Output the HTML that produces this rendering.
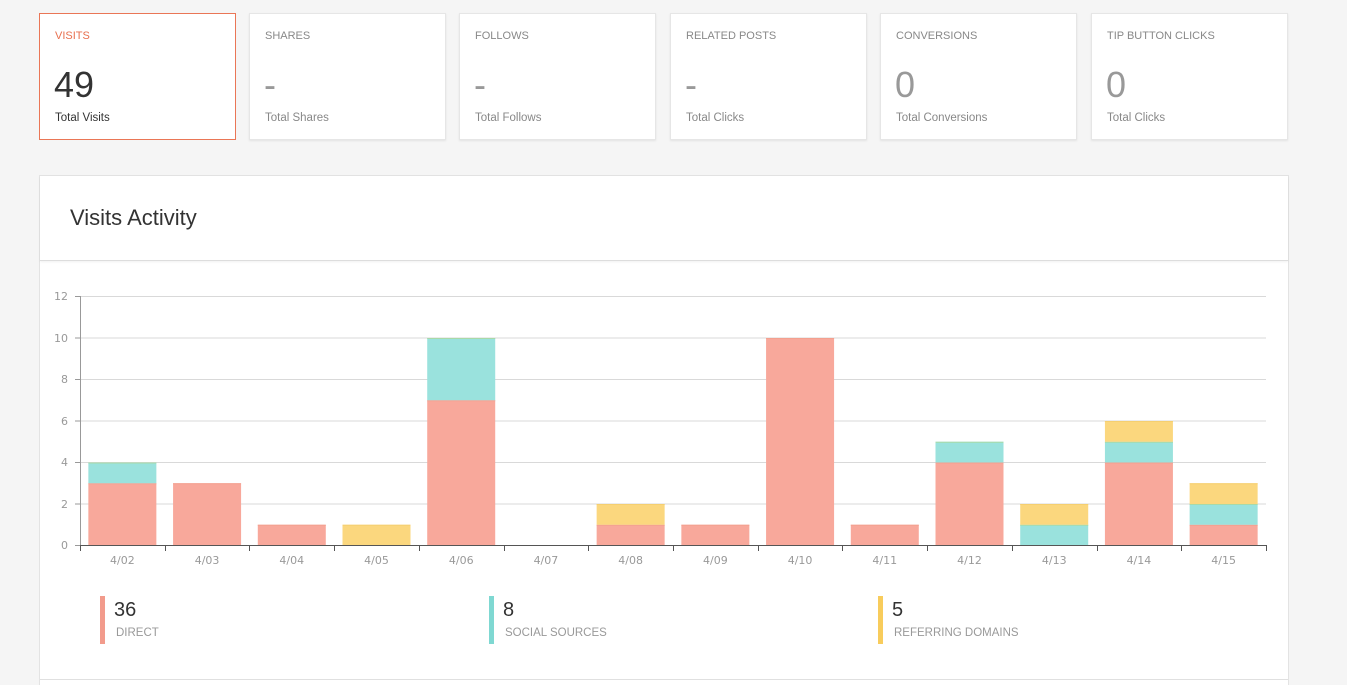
<!DOCTYPE html>
<html><head><meta charset="utf-8">
<style>
*{margin:0;padding:0;box-sizing:border-box}
html,body{width:1347px;height:685px;overflow:hidden}
body{background:#f5f5f5;font-family:"Liberation Sans",sans-serif;position:relative}
.card{position:absolute;top:13px;width:197px;height:127px;background:#fff;border:1px solid #e6e6e6;box-shadow:0 1px 2px rgba(0,0,0,0.08)}
.ob{position:absolute;top:13px;left:39px;width:197px;height:127px;background:#ea7656}
.ib{position:absolute;left:1px;top:1px;right:1px;bottom:1px;background:#fff}
.lbl{position:absolute;left:15px;top:16px;font-size:11px;color:#888}
.num{position:absolute;left:14px;top:50px;font-size:36px;color:#999;font-weight:normal}
.sub{position:absolute;left:15px;top:98px;font-size:11.5px;color:#888}
.ob .lbl{color:#e8704f}
.ob .num,.ob .sub{color:#333}
.panel{position:absolute;left:39px;top:175px;width:1250px;height:515px;background:#fff;border:1px solid #e3e3e3}
.head{position:absolute;left:0;top:0;width:100%;height:85px;border-bottom:1px solid #ddd;box-shadow:0 1px 2px rgba(0,0,0,0.06)}
.head h2{position:absolute;left:30px;top:29px;font-size:22px;font-weight:normal;color:#333}
.leg{position:absolute;top:596px;height:48px;width:5px}
.legn{position:absolute;top:599px;font-size:20px;color:#333}
.legl{position:absolute;top:627px;font-size:11.5px;color:#999}
.sep{position:absolute;left:40px;top:679px;width:1248px;height:1px;background:#e0e0e0}
</style></head><body>
<div class="ob"><div class="ib"><div class="lbl">VISITS</div><div class="num">49</div><div class="sub">Total Visits</div></div></div>
<div class="card" style="left:249px"><div class="lbl">SHARES</div><div class="num">-</div><div class="sub">Total Shares</div></div>
<div class="card" style="left:459px"><div class="lbl">FOLLOWS</div><div class="num">-</div><div class="sub">Total Follows</div></div>
<div class="card" style="left:670px"><div class="lbl">RELATED POSTS</div><div class="num">-</div><div class="sub">Total Clicks</div></div>
<div class="card" style="left:880px"><div class="lbl">CONVERSIONS</div><div class="num">0</div><div class="sub">Total Conversions</div></div>
<div class="card" style="left:1091px"><div class="lbl">TIP BUTTON CLICKS</div><div class="num">0</div><div class="sub">Total Clicks</div></div>

<div class="panel"><div class="head"><h2>Visits Activity</h2></div></div>

<svg style="position:absolute;left:0;top:0" width="1347" height="685" xmlns="http://www.w3.org/2000/svg">
<g stroke="#d9d9d9" stroke-width="1">
<line x1="80" y1="296.5" x2="1266" y2="296.5"/>
<line x1="80" y1="338" x2="1266" y2="338"/>
<line x1="80" y1="379.5" x2="1266" y2="379.5"/>
<line x1="80" y1="421" x2="1266" y2="421"/>
<line x1="80" y1="462.5" x2="1266" y2="462.5"/>
<line x1="80" y1="504" x2="1266" y2="504"/>
</g>
<g stroke="#999" stroke-width="1">
<line x1="75" y1="296.5" x2="80" y2="296.5"/>
<line x1="75" y1="338" x2="80" y2="338"/>
<line x1="75" y1="379.5" x2="80" y2="379.5"/>
<line x1="75" y1="421" x2="80" y2="421"/>
<line x1="75" y1="462.5" x2="80" y2="462.5"/>
<line x1="75" y1="504" x2="80" y2="504"/>
<line x1="75" y1="545.5" x2="80" y2="545.5"/>
<line x1="80.5" y1="296" x2="80.5" y2="546"/>
</g>
<g font-family="'DejaVu Sans',sans-serif" font-size="11" fill="#999" text-anchor="end">
<text x="68" y="300">12</text><text x="68" y="342">10</text><text x="68" y="383">8</text>
<text x="68" y="425">6</text><text x="68" y="466">4</text><text x="68" y="508">2</text><text x="68" y="549">0</text>
</g>
<g id="bars"></g>
<line x1="80" y1="545.5" x2="1266" y2="545.5" stroke="#555" stroke-width="1"/>
<g id="xt" stroke="#555" stroke-width="1"></g>
<g id="xl" font-family="'DejaVu Sans',sans-serif" font-size="11" fill="#999" text-anchor="middle"></g>
</svg>

<div class="leg" style="left:100px;background:#f29b8c"></div>
<div class="legn" style="left:114px">36</div><div class="legl" style="left:116px">DIRECT</div>
<div class="leg" style="left:489px;background:#7fd8d2"></div>
<div class="legn" style="left:503px">8</div><div class="legl" style="left:505px">SOCIAL SOURCES</div>
<div class="leg" style="left:878px;background:#f8cc5c"></div>
<div class="legn" style="left:892px">5</div><div class="legl" style="left:894px">REFERRING DOMAINS</div>
<div class="sep"></div>

<script>
var data=[["4/02",3,1,0],["4/03",3,0,0],["4/04",1,0,0],["4/05",0,0,1],["4/06",7,3,0],["4/07",0,0,0],["4/08",1,0,1],["4/09",1,0,0],["4/10",10,0,0],["4/11",1,0,0],["4/12",4,1,0],["4/13",0,1,1],["4/14",4,1,1],["4/15",1,1,1]];
var ns="http://www.w3.org/2000/svg",bars=document.getElementById("bars"),xt=document.getElementById("xt"),xl=document.getElementById("xl");
var cw=(1266-80)/14,u=20.75,base=545.5;
var cols=["#f8a89b","#9ae2dd","#fbd77e"],edge=["#f3a08f","#a8d9a8","#f5cf70"];
function el(t,a){var e=document.createElementNS(ns,t);for(var k in a)e.setAttribute(k,a[k]);return e;}
for(var i=0;i<14;i++){
 var cx=80+cw*(i+0.5),x=cx-34,y=base;
 for(var s=0;s<3;s++){var v=data[i][s+1];if(!v)continue;var h=v*u;y-=h;
  bars.appendChild(el("rect",{x:x,y:y,width:68,height:h,fill:cols[s]}));
  bars.appendChild(el("line",{x1:x,y1:y+0.5,x2:x+68,y2:y+0.5,stroke:edge[s],"stroke-width":1}));}
 var t=el("text",{x:cx,y:564});t.textContent=data[i][0];xl.appendChild(t);
}
for(var i=0;i<=14;i++){var tx=Math.round(80+cw*i)+0.5;xt.appendChild(el("line",{x1:tx,y1:545,x2:tx,y2:551}));}
</script>
</body></html>
